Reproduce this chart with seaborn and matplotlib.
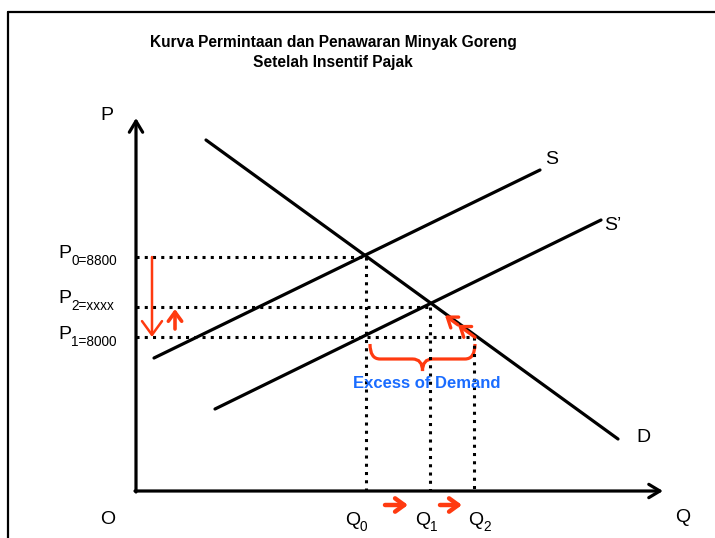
import matplotlib
matplotlib.use('Agg')
import matplotlib.pyplot as plt
from matplotlib.path import Path
from matplotlib.patches import PathPatch
import seaborn as sns
import numpy as np
import pandas as pd

# kurva (titik awal, titik akhir) dalam satuan Q, P
curve_names = ['S', 'S\u2019', 'D']
curve_q = [[18, 404], [79, 465], [70, 482]]
curve_p = [[133, 321], [82, 271], [351, 52]]

# titik keseimbangan
q_levels = [230, 294, 338]          # Q0, Q1, Q2
p_levels = [234, 184, 154]          # P0, P2, P1
p_names = ['0=8800', '2=xxxx', '1=8000']
q_names = ['0', '1', '2']

red = '#ff3a10'
blue = '#1a6cff'

sns.set_theme(style='white')
plt.rcParams['font.family'] = ['Liberation Sans', 'DejaVu Sans']
plt.rcParams['text.color'] = 'black'

fig = plt.figure(figsize=(7.15, 5.38), dpi=100)
ax = fig.add_axes([0, 0, 1, 1])
ax.set_xlim(-136, 579)
ax.set_ylim(-47, 491)
ax.axis('off')

# bingkai
ax.plot([-128, 579], [479, 479], color='black', lw=1.6, clip_on=False)
ax.plot([-128, -128], [-47, 479], color='black', lw=1.6, clip_on=False)

# sumbu
axprops = dict(arrowstyle='->,head_length=0.5,head_width=0.3', lw=2.3,
               color='black', shrinkA=0, shrinkB=0, mutation_scale=16)
ax.annotate('', xy=(0, 373), xytext=(0, -1), arrowprops=axprops)
ax.annotate('', xy=(527, 0), xytext=(-1, 0), arrowprops=axprops)

# kurva S, S', D
rows = []
for name, qs, ps in zip(curve_names, curve_q, curve_p):
    for q, p in zip(qs, ps):
        rows.append({'kurva': name, 'Q': q, 'P': p})
df = pd.DataFrame(rows)
sns.lineplot(data=df, x='Q', y='P', hue='kurva', units='kurva', estimator=None,
             palette={n: 'black' for n in curve_names}, legend=False,
             lw=2.3, ax=ax, sort=False)

# garis putus-putus
dot = (0, (1, 1.7))
for q, p in zip(q_levels, p_levels):
    ax.plot([0, q], [p, p], color='black', lw=2.2, ls=dot, dash_capstyle='butt')
    ax.plot([q, q], [p, 0], color='black', lw=2.2, ls=dot, dash_capstyle='butt')

# label
fs = 14
ax.text(-29, 376, 'P', fontsize=fs, ha='center', va='center')
ax.text(-28, -28, 'O', fontsize=fs, ha='center', va='center')
ax.text(547, -26, 'Q', fontsize=fs, ha='center', va='center')
ax.text(416, 331, 'S', fontsize=fs, ha='center', va='center')
ax.text(477, 266, 'S\u2019', fontsize=fs, ha='center', va='center')
ax.text(507, 54, 'D', fontsize=fs, ha='center', va='center')

p_lbl_y = [233, 188, 152]
for name, y in zip(p_names, p_lbl_y):
    ax.text(-78, y, 'P', fontsize=fs, ha='left', va='baseline')
    ax.text(-65, y - 7, name, fontsize=fs * 0.7, ha='left', va='baseline')

q_lbl_x = [209, 279, 332]
for name, x in zip(q_names, q_lbl_x):
    ax.text(x, -34, 'Q', fontsize=fs, ha='left', va='baseline')
    ax.text(x + 15, -40, name, fontsize=fs * 0.7, ha='left', va='baseline')

# judul
ax.text(197, 449, 'Kurva Permintaan dan Penawaran Minyak Goreng',
        fontsize=11.2, fontweight='bold', ha='center', va='center')
ax.text(197, 428, 'Setelah Insentif Pajak',
        fontsize=11.2, fontweight='bold', ha='center', va='center')

# panah merah
def red_arrow(x0, y0, x1, y1, lw, ms):
    ax.annotate('', xy=(x1, y1), xytext=(x0, y0),
                arrowprops=dict(arrowstyle='->,head_length=0.55,head_width=0.4',
                                lw=lw, color=red, shrinkA=0, shrinkB=0,
                                mutation_scale=ms))

red_arrow(16, p_levels[0], 16, p_levels[2], 1.8, 18)
red_arrow(39, 162, 39, 182, 2.6, 12)
red_arrow(249, -14, 272, -14, 3.2, 12)
red_arrow(304, -14, 326, -14, 3.2, 12)

dq, dp = curve_q[2], curve_p[2]
slope = (dp[1] - dp[0]) / (dq[1] - dq[0])
d_at = lambda q: dp[0] + slope * (q - dq[0])
for qa, qb in [(339, 322), (322, 309)]:
    red_arrow(qa, d_at(qa) - 2, qb, d_at(qb) - 2, 2.4, 12)

# kurung kurawal
x0, x1 = q_levels[0] + 4, q_levels[2] + 1
xm = (x0 + x1) / 2
top, mid, bot = 147, 132, 120
r = 10
verts = [(x0, top), (x0, mid), (x0 + r, mid),
         (xm - r, mid), (xm, mid), (xm, bot),
         (xm, mid), (xm + r, mid),
         (x1 - r, mid), (x1, mid), (x1, top)]
codes = [Path.MOVETO, Path.CURVE3, Path.CURVE3,
         Path.LINETO, Path.CURVE3, Path.CURVE3,
         Path.CURVE3, Path.CURVE3,
         Path.LINETO, Path.CURVE3, Path.CURVE3]
ax.add_patch(PathPatch(Path(verts, codes), fill=False, edgecolor=red, lw=2.3))

ax.text(291, 108, 'Excess of Demand', color=blue, fontsize=12,
        fontweight='bold', ha='center', va='center')

fig.savefig('out.png', dpi=100)
